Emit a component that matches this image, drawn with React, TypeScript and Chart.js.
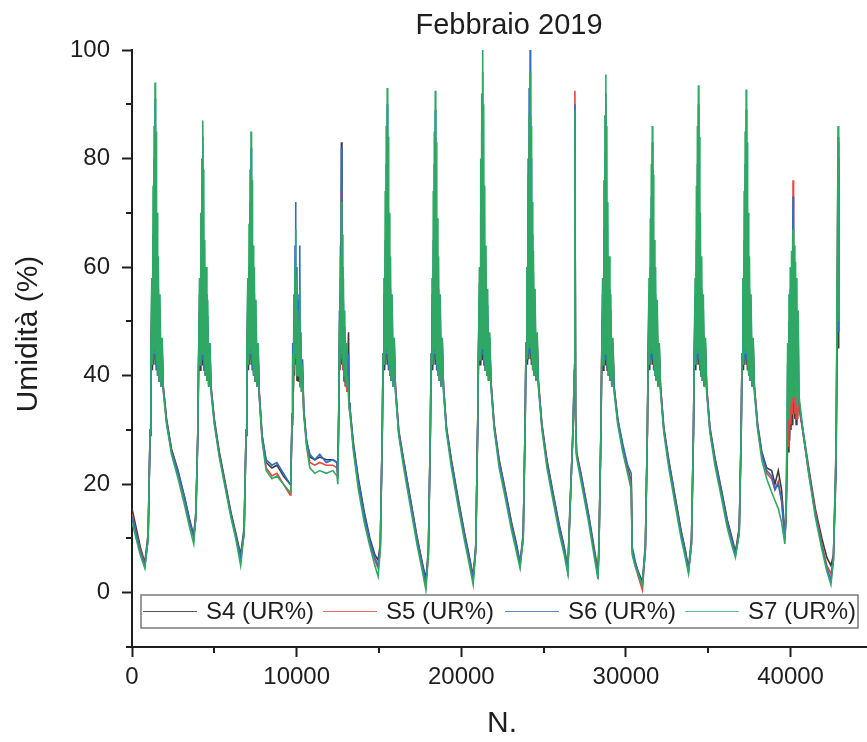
import { useEffect, useRef } from "react";
import { Chart, registerables } from "chart.js";

Chart.register(...registerables);

// ---- Data: one row per daily cycle (day band, then night decay) ----
const X: number[] = [
  0, 250, 500, 780,
  980, 1100, 1150, 1200, 1240, 1280, 1310, 1340, 1370, 1400, 1430, 1460, 1490, 1520, 1560, 1600, 1650, 1700, 1760, 1830, 1900, 2100, 2400, 2800, 3200, 3500, 3750,
  3880, 4000, 4050, 4100, 4140, 4180, 4210, 4240, 4270, 4300, 4330, 4360, 4390, 4420, 4460, 4500, 4550, 4600, 4660, 4730, 4800, 5000, 5300, 5650, 6000, 6300, 6600,
  6810, 6930, 6980, 7030, 7070, 7110, 7140, 7170, 7200, 7230, 7260, 7290, 7320, 7350, 7390, 7430, 7480, 7530, 7590, 7660, 7730, 7900, 8150, 8500, 8800, 9200, 9600,
  9650, 9720, 9760, 9800, 9840, 9870, 9900, 9930, 9960, 9990, 10020, 10060, 10100, 10140, 10170, 10190, 10220, 10260, 10300, 10360, 10430, 10600, 10800, 11100, 11400, 11800, 12200, 12450,
  12500, 12560, 12600, 12630, 12660, 12690, 12720, 12750, 12780, 12810, 12840, 12880, 12920, 12960, 13000, 13050, 13100, 13150, 13190, 13240, 13300, 13450, 13750, 14100, 14450, 14750, 14950,
  15080, 15200, 15250, 15300, 15340, 15380, 15410, 15440, 15470, 15500, 15530, 15560, 15590, 15620, 15660, 15700, 15750, 15800, 15860, 15930, 16000, 16200, 16500, 16900, 17300, 17600, 17850,
  18000, 18120, 18170, 18220, 18260, 18300, 18330, 18360, 18390, 18420, 18450, 18480, 18510, 18540, 18580, 18620, 18670, 18720, 18780, 18850, 18920, 19100, 19400, 19800, 20200, 20500, 20720,
  20880, 21000, 21050, 21100, 21140, 21180, 21210, 21240, 21270, 21300, 21330, 21360, 21390, 21420, 21460, 21500, 21550, 21600, 21660, 21730, 21800, 22000, 22300, 22700, 23050, 23350, 23570,
  23760, 23880, 23930, 23980, 24020, 24060, 24090, 24120, 24150, 24180, 24210, 24240, 24270, 24300, 24340, 24380, 24430, 24480, 24540, 24610, 24680, 24900, 25200, 25600, 25950, 26250, 26470,
  26600, 26780, 26870, 26900, 26940, 27000, 27300, 27700, 28000, 28300,
  28360, 28480, 28530, 28580, 28620, 28660, 28690, 28720, 28750, 28780, 28810, 28840, 28870, 28900, 28940, 28980, 29030, 29080, 29140, 29210, 29280, 29500, 29800, 30100, 30320, 30380, 30550, 30800, 31000,
  31180, 31300, 31350, 31400, 31440, 31480, 31510, 31540, 31570, 31600, 31630, 31660, 31690, 31720, 31760, 31800, 31850, 31900, 31960, 32030, 32100, 32300, 32600, 33000, 33350, 33600, 33800,
  33980, 34100, 34150, 34200, 34240, 34280, 34310, 34340, 34370, 34400, 34430, 34460, 34490, 34520, 34560, 34600, 34650, 34700, 34760, 34830, 34900, 35100, 35400, 35800, 36150, 36450, 36650,
  36880, 37000, 37050, 37100, 37140, 37180, 37210, 37240, 37270, 37300, 37330, 37360, 37390, 37420, 37460, 37500, 37550, 37600, 37660, 37730, 37800, 38000, 38250, 38550, 38850, 39050, 39250, 39450, 39650,
  39720, 39780, 39820, 39860, 39900, 39940, 39980, 40020, 40060, 40100, 40130, 40150, 40180, 40220, 40260, 40300, 40340, 40380, 40420, 40460, 40520, 40750, 41100, 41500, 41900, 42200, 42450,
  42600, 42760, 42840, 42880, 42920,
];

const S4: number[] = [
  15.5, 12, 8.5, 5.5,
  11, 29, 43, 50, 41, 55, 42, 60, 43, 63, 42, 58, 41, 55, 40, 50, 39, 48, 38, 44, 38, 32, 26.5, 22.5, 17.5, 13.5, 10.5,
  15, 29, 43, 50, 41, 54, 42, 58, 43, 60, 42, 56, 41, 53, 40, 49, 39, 47, 38, 44, 38, 32, 26, 20.5, 15, 11, 7,
  12, 29, 43, 50, 41, 54, 42, 58, 43, 60, 42, 56, 41, 52, 40, 49, 39, 47, 38, 43, 37, 29, 24, 23, 23.5, 21.5, 20,
  22, 31, 40, 37, 45, 40, 50, 55, 42, 50, 39, 46, 39, 45, 41, 48, 38, 43, 37, 40, 33.5, 28, 25, 24.5, 25, 24.5, 24.5, 24,
  22, 33, 46, 41, 55, 43, 83, 42, 55, 41, 50, 39, 46, 38, 42, 37, 41, 48, 35, 34, 32, 27.5, 21, 15, 10, 7, 6,
  9, 29, 43, 50, 41, 55, 42, 60, 43, 63, 42, 58, 41, 55, 40, 50, 39, 48, 38, 44, 38, 30, 24.5, 17.5, 10.5, 6, 2.5,
  8, 29, 43, 50, 41, 55, 42, 60, 43, 63, 42, 58, 41, 55, 40, 50, 39, 48, 38, 44, 38, 30.5, 24.5, 17.5, 11, 6.5, 3,
  9, 31, 45, 52, 42, 57, 43, 62, 44, 65, 43, 60, 42, 56, 41, 51, 40, 49, 39, 45, 39, 31, 24.5, 18.5, 13, 9, 5.5,
  11, 31, 45, 52, 42, 57, 43, 62, 44, 66, 43, 60, 42, 56, 41, 51, 40, 49, 39, 45, 39, 31, 24.5, 18, 12.5, 8.5, 4.5,
  16, 29, 40, 87, 33, 26, 21.5, 15, 9.5, 4,
  9, 29, 43, 50, 41, 55, 42, 60, 43, 64, 42, 58, 41, 55, 40, 50, 39, 48, 38, 44, 38, 32, 27, 23, 20.5, 8, 5.5, 3.5, 2,
  9, 29, 43, 50, 41, 54, 42, 58, 43, 59, 42, 56, 41, 52, 40, 49, 39, 47, 38, 43, 38, 30.5, 24.5, 17.5, 11.5, 8, 4.5,
  10, 29, 43, 50, 41, 55, 42, 60, 43, 64, 42, 58, 41, 55, 40, 50, 39, 48, 38, 44, 38, 30.5, 25, 19, 13.5, 10, 7.5,
  12, 29, 43, 50, 41, 55, 42, 60, 43, 63, 42, 58, 41, 55, 40, 50, 39, 48, 38, 44, 38, 31, 26, 23, 22.5, 20, 22.5, 19, 11,
  13, 22, 28, 26, 32, 28, 34, 30, 36, 31, 38, 40, 33, 37, 32, 35, 31, 34, 32, 35, 34, 30, 23, 15.5, 10, 6.5, 5,
  7, 22, 50, 80, 45,
];

const S5: number[] = [
  14.5, 11, 8, 5,
  10, 30, 44, 52, 42, 58, 43, 70, 44, 84, 43, 62, 41, 53, 40, 52, 39, 50, 38, 45, 38, 31.5, 26, 22, 17, 13, 10,
  14, 30, 44, 52, 42, 54, 43, 65, 44, 78, 43, 57, 41, 49, 40, 51, 39, 49, 38, 45, 38, 31.5, 25.5, 20, 14.5, 10.5, 6.5,
  11, 30, 44, 52, 42, 53, 43, 64, 44, 76, 43, 56, 41, 48, 40, 51, 39, 49, 38, 44, 36.5, 28.5, 23, 21.5, 22, 20, 18,
  21, 32, 42, 38, 48, 41, 54, 58, 43, 52, 40, 48, 40, 46, 42, 50, 38, 44, 37, 41, 33.5, 27.5, 24, 23.5, 24, 23.5, 23.5, 23,
  21, 34, 48, 42, 58, 44, 74, 43, 57, 41, 51, 40, 47, 38, 43, 37, 40, 40, 34, 33, 31.5, 26.5, 20, 14, 9, 6, 4.5,
  8, 30, 44, 52, 42, 58, 43, 70, 44, 83, 43, 61, 41, 52, 40, 52, 39, 50, 38, 45, 38, 29.5, 24, 17, 10, 5.5, 1.5,
  7, 30, 44, 52, 42, 57, 43, 69, 44, 82, 43, 61, 41, 52, 40, 52, 39, 50, 38, 45, 38, 30, 24, 17, 10.5, 6, 2.5,
  8, 32, 46, 54, 43, 62, 44, 75, 45, 86, 44, 66, 42, 56, 41, 54, 40, 51, 39, 46, 39, 30.5, 24, 18, 12.5, 8.5, 5,
  10, 32, 46, 54, 43, 62, 44, 76, 45, 88, 44, 66, 42, 56, 41, 54, 40, 51, 39, 46, 39, 30.5, 24, 17.5, 12, 8, 4,
  15, 30, 41, 92.5, 32, 25.5, 21, 14.5, 9, 3.5,
  8, 30, 44, 52, 42, 59, 43, 72, 44, 86, 43, 63, 41, 53, 40, 52, 39, 50, 38, 45, 38, 31.5, 26.5, 22.5, 20, 7.5, 5, 2.5, 0.5,
  8, 30, 44, 52, 42, 53, 43, 64, 44, 78, 43, 57, 41, 48, 40, 51, 39, 49, 38, 44, 38, 30, 24, 17, 11, 7.5, 4,
  9, 30, 44, 52, 42, 58, 43, 70, 44, 84, 43, 62, 41, 52, 40, 52, 39, 50, 38, 45, 38, 30, 24.5, 18.5, 13, 9.5, 7,
  11, 30, 44, 52, 42, 58, 43, 70, 44, 83, 43, 61, 41, 52, 40, 52, 39, 50, 38, 45, 38, 30.5, 25.5, 22, 21, 19, 20.5, 17, 10,
  14, 24, 30, 27, 35, 30, 38, 31, 42, 33, 55, 76, 35, 46, 33, 40, 32, 38, 32, 36, 34, 29.5, 22.5, 15, 9, 5, 3.5,
  6, 27, 55, 83, 48,
];

const S6: number[] = [
  14, 11, 7.5, 5,
  10, 30, 44, 55, 42, 66, 43, 80, 44, 91, 43, 70, 41, 58, 40, 56, 39, 52, 38, 46, 37.5, 31.5, 26, 22, 17.5, 13, 10.5,
  14, 30, 44, 55, 42, 61, 43, 74, 44, 84, 43, 65, 41, 54, 40, 55, 39, 51, 38, 46, 37.5, 31.5, 25.5, 20, 14.5, 10.5, 6.5,
  11, 30, 44, 55, 42, 60, 43, 72, 44, 82, 43, 64, 41, 53, 40, 55, 39, 51, 38, 45, 36.5, 29, 24.5, 23.5, 24, 22, 20,
  22, 33, 46, 40, 55, 43, 64, 72, 46, 60, 41, 54, 41, 55, 45, 64, 39, 48, 38, 43, 34, 28, 25.5, 24.5, 25.5, 24, 24.5, 24,
  21, 35, 52, 43, 64, 46, 82, 45, 60, 42, 54, 40, 49, 39, 44, 38, 42, 44, 35, 34, 32, 27, 20.5, 14.5, 9.5, 6.5, 5,
  8, 30, 44, 55, 42, 65, 43, 79, 44, 90, 43, 70, 41, 58, 40, 56, 39, 52, 38, 46, 37.5, 29.5, 24, 17, 10, 5.5, 2,
  7, 30, 44, 55, 42, 65, 43, 79, 44, 89, 43, 69, 41, 57, 40, 56, 39, 52, 38, 46, 37.5, 30, 24, 17, 10.5, 6, 2.5,
  8, 32, 46, 57, 43, 70, 44, 85, 45, 96, 44, 75, 42, 62, 41, 58, 40, 53, 39, 47, 38.5, 30.5, 24, 18, 12.5, 8.5, 5.5,
  10, 32, 46, 58, 43, 80, 44, 93, 45, 100, 44, 80, 42, 66, 41, 59, 40, 53, 39, 47, 38.5, 30.5, 24, 17.5, 12, 8, 4,
  15, 30, 41, 90, 32, 25.5, 21, 14.5, 9, 3,
  8, 30, 44, 55, 42, 67, 43, 81, 44, 92, 43, 72, 41, 59, 40, 56, 39, 52, 38, 46, 37.5, 32, 27.5, 23.5, 22, 8.5, 6, 3, 1.5,
  8, 30, 44, 55, 42, 60, 43, 73, 44, 83, 43, 65, 41, 53, 40, 55, 39, 51, 38, 45, 37.5, 30, 24, 17, 11, 7.5, 4,
  9, 30, 44, 55, 42, 65, 43, 79, 44, 90, 43, 70, 41, 58, 40, 56, 39, 52, 38, 46, 37.5, 30, 24.5, 18.5, 13, 9.5, 7,
  11, 30, 44, 55, 42, 65, 43, 79, 44, 89, 43, 70, 41, 58, 40, 56, 39, 52, 38, 46, 37.5, 30.5, 25.5, 22.5, 21.5, 19, 20, 17, 10,
  14, 28, 42, 38, 50, 40, 56, 40, 60, 42, 65, 73, 42, 58, 40, 55, 39, 50, 38, 46, 35, 29.5, 22, 14.5, 8.5, 4.5, 2.5,
  6, 25, 58, 84, 48,
];

const S7: number[] = [
  13, 10, 7, 4.5,
  10, 30, 44, 58, 42, 75, 44, 86, 45, 94, 44, 85, 42, 70, 40, 62, 39, 55, 38, 47, 37, 31, 25.5, 21, 16, 12, 9,
  14, 30, 44, 58, 42, 70, 44, 80, 45, 87, 44, 78, 42, 65, 40, 60, 39, 54, 38, 46, 37, 31, 25, 19.5, 14, 10, 5,
  11, 30, 44, 58, 42, 68, 44, 78, 45, 85, 44, 76, 42, 64, 40, 60, 39, 54, 38, 46, 36, 28, 22.5, 21, 21.5, 20, 18.5,
  21, 32, 44, 38, 52, 42, 60, 67, 44, 58, 40, 52, 40, 50, 42, 56, 38, 46, 37, 42, 33, 27, 23, 22, 22.5, 22, 22.5, 21.5,
  20, 34, 50, 42, 62, 45, 72, 44, 66, 42, 58, 40, 52, 39, 46, 38, 40, 36, 34, 33, 31, 26, 19, 13, 8.5, 5, 3,
  8, 30, 44, 58, 42, 74, 44, 86, 45, 93, 44, 84, 42, 70, 40, 62, 39, 55, 38, 47, 37, 29, 23, 16, 9, 4.5, 0.5,
  7, 30, 44, 58, 42, 74, 44, 85, 45, 92.5, 44, 83, 42, 69, 40, 62, 39, 55, 38, 47, 37, 29.5, 23, 16, 9.5, 5, 1.5,
  8, 32, 46, 60, 43, 80, 45, 92, 46, 100, 45, 90, 43, 75, 41, 64, 40, 56, 39, 48, 38, 30, 23, 17, 11.5, 7.5, 4.5,
  10, 32, 46, 60, 43, 77, 45, 88, 46, 96, 45, 86, 43, 72, 41, 63, 40, 56, 39, 48, 38, 30, 23, 16.5, 11, 7, 3.5,
  15, 30, 42, 89, 32, 25, 20, 13.5, 8, 2.5,
  8, 30, 44, 58, 42, 76, 44, 88, 45, 95.5, 44, 86, 42, 72, 40, 62, 39, 55, 38, 47, 37, 31, 26, 22, 19, 7, 5, 3, 1.5,
  8, 30, 44, 58, 42, 69, 44, 79, 45, 86, 44, 77, 42, 65, 40, 60, 39, 54, 38, 46, 37, 29.5, 23, 16, 10, 6.5, 3.5,
  9, 30, 44, 58, 42, 75, 44, 86, 45, 93.5, 44, 84, 42, 70, 40, 62, 39, 55, 38, 47, 37, 29.5, 23.5, 17.5, 12, 8.5, 6.5,
  11, 30, 44, 58, 42, 74, 44, 85, 45, 92.7, 44, 83, 42, 70, 40, 62, 39, 55, 38, 47, 37, 30, 24.5, 21, 18.5, 17, 15.5, 13, 9,
  14, 30, 46, 32, 55, 34, 60, 35, 63, 36, 66, 67, 38, 64, 36, 61, 35, 58, 34, 52, 36, 30, 22, 14, 8, 4, 1.5,
  6, 26, 62, 86, 50,
];

const LABELS: string[] = ["S4 (UR%)", "S5 (UR%)", "S6 (UR%)", "S7 (UR%)"];
const COLORS: string[] = ["#3b3b3b", "#e4473f", "#2f6cc4", "#2fa865"];
const LEGEND_COLORS: string[] = ["#555555", "#e86a6a", "#5a88cc", "#5fc093"];
const X_TICKS: number[] = [0, 10000, 20000, 30000, 40000];
const Y_TICKS: number[] = [0, 20, 40, 60, 80, 100];
const X_MINOR: number[] = [5000, 15000, 25000, 35000];
const Y_MINOR: number[] = [-10, 10, 30, 50, 70, 90];

const TITLE = "Febbraio 2019";
const X_TITLE = "N.";
const Y_TITLE = "Umidità (%)";

const FONT = "'Liberation Sans', Arial, Helvetica, sans-serif";
const INK = "#1e1e1e";

export default function App() {
  const ref = useRef<HTMLCanvasElement | null>(null);

  useEffect(() => {
    if (!ref.current) return;
    Chart.defaults.font.family = FONT;
    const series = [S4, S5, S6, S7];
    const datasets = series.map((s, i) => {
      const n = Math.min(X.length, s.length);
      return {
        label: LABELS[i],
        data: X.slice(0, n).map((x, k) => ({ x, y: s[k] })),
        borderColor: COLORS[i],
        backgroundColor: COLORS[i],
        borderWidth: 1.6,
        pointRadius: 0,
        tension: 0,
        fill: false,
        order: 3 - i,
      };
    });

    const overlay = {
      id: "overlay",
      afterDraw(chart: any) {
        const ctx = chart.ctx as CanvasRenderingContext2D;
        const xs = chart.scales.x;
        const ys = chart.scales.y;
        const area = chart.chartArea;
        ctx.save();
        ctx.strokeStyle = INK;
        ctx.lineWidth = 2;
        X_MINOR.forEach((v) => {
          if (v > xs.max) return;
          const px = Math.round(xs.getPixelForValue(v));
          ctx.beginPath();
          ctx.moveTo(px, area.bottom);
          ctx.lineTo(px, area.bottom + 6);
          ctx.stroke();
        });
        Y_MINOR.forEach((v) => {
          const py = Math.round(ys.getPixelForValue(v));
          ctx.beginPath();
          ctx.moveTo(area.left - 6, py);
          ctx.lineTo(area.left, py);
          ctx.stroke();
        });

        const bl = 141, bt = 595, br = 858, bb = 628;
        ctx.fillStyle = "#ffffff";
        ctx.fillRect(bl, bt, br - bl, bb - bt);
        ctx.strokeStyle = "#7a7a7a";
        ctx.lineWidth = 1.5;
        ctx.strokeRect(bl, bt, br - bl, bb - bt);
        const starts = [143, 323, 505, 685];
        const cy = (bt + bb) / 2;
        ctx.font = `24px ${FONT}`;
        ctx.textBaseline = "middle";
        ctx.textAlign = "left";
        LABELS.forEach((lab, i) => {
          const lx = starts[i];
          ctx.strokeStyle = LEGEND_COLORS[i];
          ctx.lineWidth = 1.2;
          ctx.beginPath();
          ctx.moveTo(lx, cy);
          ctx.lineTo(lx + 54, cy);
          ctx.stroke();
          ctx.fillStyle = INK;
          ctx.fillText(lab, lx + 63, cy + 1);
        });

        ctx.fillStyle = INK;
        ctx.textBaseline = "alphabetic";
        ctx.textAlign = "center";
        ctx.font = `29px ${FONT}`;
        ctx.fillText(TITLE, 509, 34);
        ctx.font = `30px ${FONT}`;
        ctx.fillText(X_TITLE, 502, 732);
        ctx.save();
        ctx.translate(37, 334);
        ctx.rotate(-Math.PI / 2);
        ctx.fillText(Y_TITLE, 0, 0);
        ctx.restore();
        ctx.restore();
      },
    };

    const chart = new Chart(ref.current, {
      type: "line",
      data: { datasets },
      plugins: [overlay],
      options: {
        animation: false,
        responsive: false,
        devicePixelRatio: 1,
        layout: { padding: { top: 50, right: 0, left: 0, bottom: 0 } },
        plugins: {
          legend: { display: false },
          title: { display: false },
          tooltip: { enabled: false },
        },
        scales: {
          x: {
            type: "linear",
            min: 0,
            max: 44640,
            afterBuildTicks: (s: any) => {
              s.ticks = X_TICKS.map((v) => ({ value: v }));
            },
            afterFit: (s: any) => {
              s.height = 95;
            },
            ticks: {
              autoSkip: false,
              maxRotation: 0,
              color: INK,
              padding: 6,
              font: { size: 24, family: FONT },
              callback: (v: any) => String(v),
            },
            grid: {
              display: true,
              drawOnChartArea: false,
              drawTicks: true,
              tickLength: 10,
              tickWidth: 2,
              tickColor: INK,
            },
            border: { display: true, width: 2, color: INK },
          },
          y: {
            type: "linear",
            min: -10,
            max: 100,
            afterBuildTicks: (s: any) => {
              s.ticks = Y_TICKS.map((v) => ({ value: v }));
            },
            afterFit: (s: any) => {
              s.width = 132;
            },
            ticks: {
              autoSkip: false,
              color: INK,
              padding: 12,
              font: { size: 24, family: FONT },
              callback: (v: any) => String(v),
            },
            grid: {
              display: true,
              drawOnChartArea: false,
              drawTicks: true,
              tickLength: 10,
              tickWidth: 2,
              tickColor: INK,
            },
            border: { display: true, width: 2, color: INK },
          },
        },
      } as any,
    });
    return () => chart.destroy();
  }, []);

  return (
    <div style={{ position: "fixed", left: 0, top: 0, width: 867, height: 742, background: "#ffffff" }}>
      <canvas ref={ref} width={867} height={742} style={{ display: "block", width: 867, height: 742 }} />
    </div>
  );
}
